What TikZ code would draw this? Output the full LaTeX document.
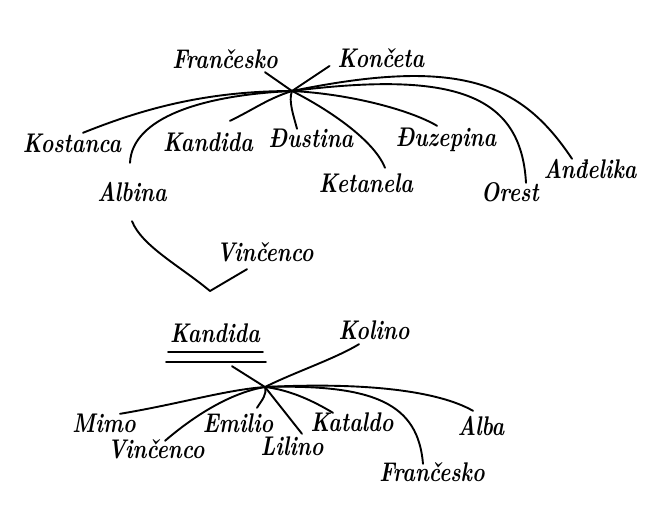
\documentclass[tikz,border=0pt]{standalone}
\usepackage{graphicx}
\newcommand\hw[1]{\scalebox{0.79}[1]{#1}}

\begin{document}
\begin{tikzpicture}[x=1pt,y=-1pt,every node/.style={font=\fontsize{27}{29}\selectfont\bfseries\itshape}]
      \tikzstyle{kin}=[inner sep=1pt,text height=15pt,text depth=3pt]
      \tikzstyle{strand}=[line width=1.9pt,line cap=round,line join=round]
      \useasboundingbox (0,0) rectangle (645,531);
      % first family
      \coordinate (hub) at (292,91);
      \node[kin] (fA) at (225,62) {\hw{Frančesko}};
      \node[kin] (kc) at (381,61) {\hw{Končeta}};
      \node[kin] (ko) at (72,146) {\hw{Kostanca}};
      \node[kin] (al) at (132,195) {\hw{Albina}};
      \node[kin] (ka) at (208,145) {\hw{Kandida}};
      \node[kin] (du) at (311,141) {\hw{Đustina}};
      \node[kin] (ke) at (366,186) {\hw{Ketanela}};
      \node[kin] (dz) at (446,140) {\hw{Đuzepina}};
      \node[kin] (or) at (510,195) {\hw{Orest}};
      \node[kin] (an) at (590,172) {\hw{Anđelika}};
      \draw[strand] ([xshift=40pt]fA.south) -- (hub);
      \draw[strand] (hub) -- ([xshift=-7pt,yshift=-5pt]kc.west);
      \draw[strand] (hub) .. controls +(30,15) and +(-12,-30) .. ([xshift=19pt,yshift=8pt]ke.north);
      \draw[strand] (hub) .. controls +(-90,0) and +(55,-22) .. ([xshift=11pt,yshift=3pt]ko.north);
      \draw[strand] (hub) .. controls +(-90,4) and +(2,-45) .. ([xshift=-2pt,yshift=22pt]al.north);
      \draw[strand] (hub) .. controls +(-25,8) and +(25,-12) .. ([xshift=22pt,yshift=14pt]ka.north);
      \draw[strand] (hub) .. controls +(-4,10) and +(-3,-12) .. ([xshift=-14pt,yshift=2pt]du.north);
      \draw[strand] (hub) .. controls +(60,3) and +(-25,-15) .. ([xshift=-9pt,yshift=4pt]dz.north);
      \draw[strand] (hub) .. controls +(160,-20) and +(-5,-90) .. ([xshift=16pt,yshift=2pt]or.north);
      \draw[strand] (hub) .. controls +(170,-35) and +(-50,-75) .. ([xshift=-18pt,yshift=3pt]an.north);
      % marriage
      \node[kin] (vi) at (265,255) {\hw{Vinčenco}};
      \coordinate (wed) at (210,291);
      \draw[strand] ([yshift=-16pt]al.south) .. controls +(10,25) and +(-30,-25) .. (wed) -- ([xshift=-18pt,yshift=-4pt]vi.south);
      % second family
      \coordinate (hub2) at (265,387);
      \node[kin] (kb) at (215,336) {\hw{Kandida}};
      \node[kin] (kl) at (374,333) {\hw{Kolino}};
      \node[kin] (mi) at (104,426) {\hw{Mimo}};
      \node[kin] (vb) at (156,452) {\hw{Vinčenco}};
      \node[kin] (em) at (238,426) {\hw{Emilio}};
      \node[kin] (li) at (292,449) {\hw{Lilino}};
      \node[kin] (kt) at (352,425) {\hw{Kataldo}};
      \node[kin] (ab) at (481,429) {\hw{Alba}};
      \node[kin] (fb) at (432,475) {\hw{Frančesko}};
      \draw[strand] (168,352) -- (263,352);
      \draw[strand] (166,362) -- (266,362);
      \draw[strand] ([xshift=17pt,yshift=-20pt]kb.south) -- (hub2);
      \draw[strand] (hub2) .. controls +(30,-15) and +(-25,15) .. ([xshift=-15pt,yshift=-1pt]kl.south);
      \draw[strand] (hub2) .. controls +(-40,3) and +(60,-10) .. ([xshift=16pt,yshift=2pt]mi.north);
      \draw[strand] (hub2) .. controls +(-30,5) and +(35,-30) .. ([xshift=9pt,yshift=1pt]vb.north);
      \draw[strand] (hub2) .. controls +(2,8) and +(5,-8) .. ([xshift=19pt,yshift=8pt]em.north);
      \draw[strand] (hub2) -- ([xshift=10pt,yshift=5pt]li.north);
      \draw[strand] (hub2) .. controls +(25,3) and +(-20,-12) .. ([xshift=-19pt,yshift=2pt]kt.north);
      \draw[strand] (hub2) .. controls +(100,-5) and +(-35,-20) .. ([xshift=-8pt,yshift=8pt]ab.north);
      \draw[strand] (hub2) .. controls +(110,-3) and +(-5,-60) .. ([xshift=-9pt,yshift=1pt]fb.north);
    \end{tikzpicture}
\end{document}
